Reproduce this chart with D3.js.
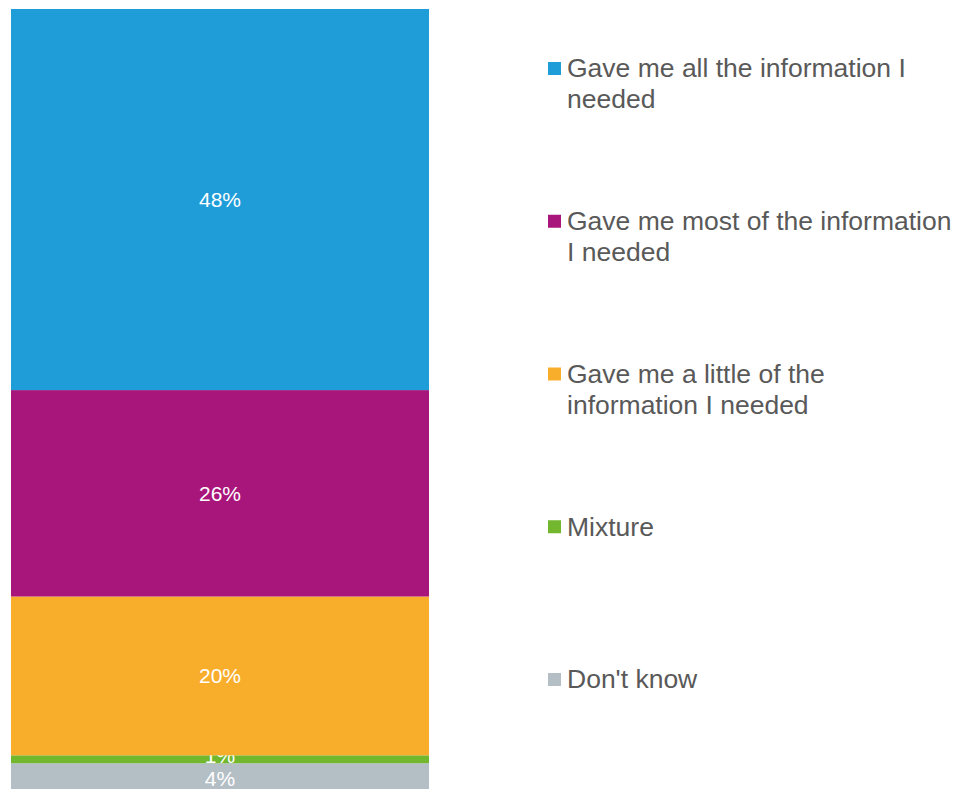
<!DOCTYPE html>
<html>
<head>
<meta charset="utf-8">
<script src="https://cdn.jsdelivr.net/npm/d3@7"></script>
<style>
  html, body { margin: 0; padding: 0; background: #fff; }
  svg { display: block; }
  svg text { font-family: "Liberation Sans", Arial, Helvetica, sans-serif; }
</style>
</head>
<body>
<svg id="chart" width="968" height="789"></svg>
<script>
// Response categories, bottom of the stack last
const categories = [
  "Gave me all the information I\nneeded",
  "Gave me most of the information\nI needed",
  "Gave me a little of the\ninformation I needed",
  "Mixture",
  "Don't know"
];
const values = [48, 26, 20, 1, 4];
const colors = ["#1f9dd9", "#a9167b", "#f9ae2b", "#73b72f", "#b3bec5"];

const svg = d3.select("#chart");
const FONT = "'Liberation Sans', Arial, Helvetica, sans-serif";
const LABEL_SIZE = 21;

// Stack from bottom (Don't know) up to top (all the information)
const order = d3.range(categories.length).reverse();
const row = {};
order.forEach(i => { row[i] = values[i]; });
const stacked = d3.stack().keys(order)([row]);

const total = d3.sum(values);
const y = d3.scaleLinear().domain([0, total]).range([795, 9]);
const x = d3.scaleBand().domain(["all"]).range([11, 429]).padding(0);

const seg = svg.append("g").selectAll("g")
  .data(stacked)
  .join("g");

seg.append("rect")
  .attr("x", x("all"))
  .attr("width", x.bandwidth())
  .attr("y", d => y(d[0][1]))
  .attr("height", d => y(d[0][0]) - y(d[0][1]))
  .attr("fill", d => colors[d.key]);

// Value labels centred in each segment; labels too tall for a thin
// segment are lifted slightly so they clear the one below
seg.append("text")
  .attr("x", x("all") + x.bandwidth() / 2)
  .attr("y", d => {
    const top = y(d[0][1]), bottom = y(d[0][0]);
    const mid = (top + bottom) / 2;
    return (bottom - top) < LABEL_SIZE ? mid - 4 : mid;
  })
  .attr("dy", "0.35em")
  .attr("text-anchor", "middle")
  .attr("fill", "#ffffff")
  .attr("font-family", FONT)
  .attr("font-size", LABEL_SIZE)
  .text(d => values[d.key] + "%");

// Legend
const legendY = d3.scalePoint().domain(d3.range(categories.length)).range([68, 679]);
const leg = svg.append("g").selectAll("g")
  .data(categories)
  .join("g")
  .attr("transform", (d, i) => `translate(548, ${legendY(i)})`);

leg.append("rect")
  .attr("x", 0)
  .attr("y", -6)
  .attr("width", 13)
  .attr("height", 13)
  .attr("fill", (d, i) => colors[i]);

leg.append("text")
  .attr("x", 19)
  .attr("fill", "#595959")
  .attr("font-family", FONT)
  .attr("font-size", 26.5)
  .selectAll("tspan")
  .data(d => d.split("\n"))
  .join("tspan")
  .attr("x", 19)
  .attr("y", (d, i) => i * 31)
  .attr("dy", "0.35em")
  .text(d => d);
</script>
</body>
</html>
